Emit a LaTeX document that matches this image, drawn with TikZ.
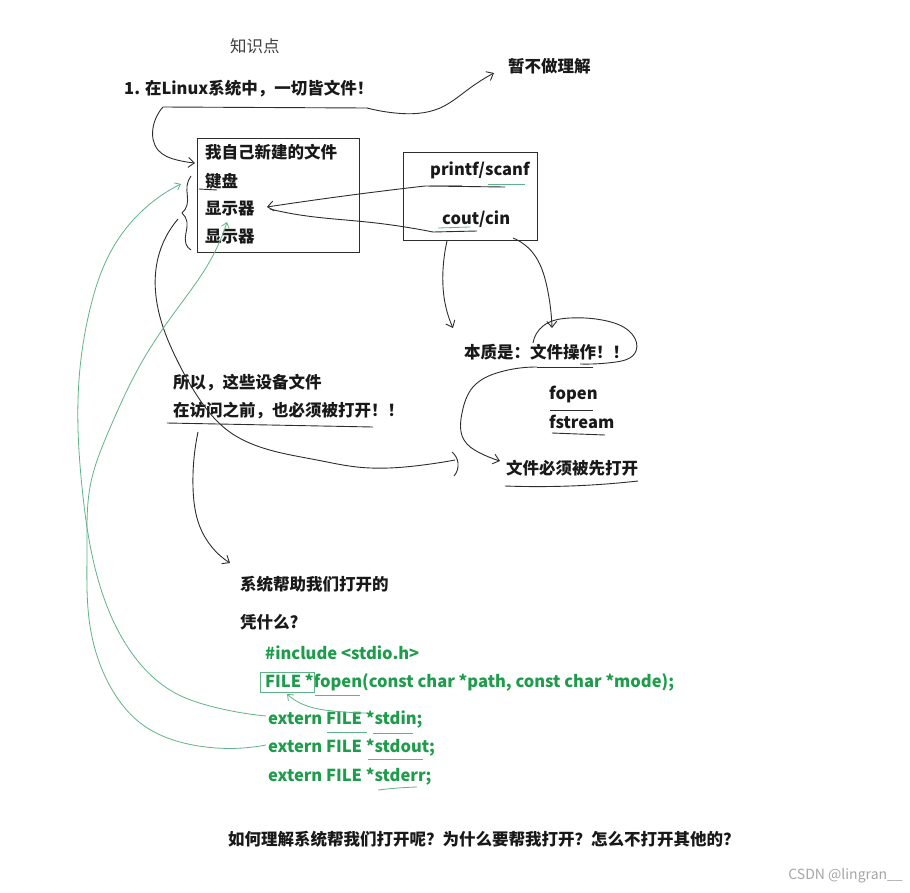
\documentclass[tikz,border=0pt]{standalone}
\usepackage{fontspec}
\setmainfont{Noto Sans CJK SC}
\usetikzlibrary{arrows.meta}
\usetikzlibrary{hobby}
\definecolor{penink}{RGB}{45,45,45}
\definecolor{codegreen}{RGB}{30,155,75}
\definecolor{greenink}{RGB}{95,180,135}
\tikzstyle{note}=[anchor=west, inner sep=0pt, font=\fontsize{16.5}{20}\selectfont\bfseries, text=black!90]
\tikzstyle{code}=[note, text=codegreen]
\tikzstyle{filebox}=[draw=penink, line width=1pt, anchor=north west, inner sep=0pt]
\tikzstyle{ink}=[draw=penink, line width=0.9pt, use Hobby shortcut]
\tikzstyle{greenpen}=[draw=greenink, line width=0.8pt, use Hobby shortcut]
\tikzstyle{penarrow}=[-{Straight Barb[length=6pt,width=10pt]}]
\tikzstyle{greenarrow}=[-{Straight Barb[length=5pt,width=8pt]}]

\begin{document}
\begin{tikzpicture}[x=1pt, y=-1pt]
      \fill[white] (0,0) rectangle (910,892);
      \useasboundingbox (0,0) rectangle (910,892);

      \node[note, font=\fontsize{16.5}{20}\selectfont, text=black!75] (topic) at (230,46) {知识点};
      \node[note] (claim) at (124,89) {1. 在Linux系统中，一切皆文件！};
      \node[note] (skip) at (508,66) {暂不做理解};

      \node[filebox, minimum width=162pt, minimum height=114pt] (files) at (197,138) {};
      \node[note] (own) at (205,152) {我自己新建的文件};
      \node[note] (kbd) at (205,181) {键盘};
      \node[note] (disp) at (205,209) {显示器};
      \node[note] (disp2) at (205,237) {显示器};

      \node[filebox, minimum width=134pt, minimum height=88pt] (libs) at (403,152) {};
      \node[note] (cio) at (430,170) {printf/scanf};
      \node[note] (cpp) at (442,219) {cout/cin};

      \node[note] (essence) at (464,352) {本质是：文件操作！！};
      \node[note] (fopen) at (549,394) {fopen};
      \node[note] (fstream) at (549,422) {fstream};
      \node[note] (mustopen) at (506,468) {文件必须被先打开};

      \node[note] (dev1) at (173,383) {所以，这些设备文件};
      \node[note] (dev2) at (173,411) {在访问之前，也必须被打开！！};

      \node[note] (sysopen) at (240,584) {系统帮助我们打开的};
      \node[note] (why) at (240,622) {凭什么?};
      \node[code] (incl) at (265,653) {\#include <stdio.h>};
      \node[code] (proto) at (265,682) {FILE *fopen(const char *path, const char *mode);};
      \node[code] (sin) at (268,720) {extern FILE *stdin;};
      \node[code] (sout) at (268,748) {extern FILE *stdout;};
      \node[code] (serr) at (268,777) {extern FILE *stderr;};

      \node[note] (question) at (228,839) {如何理解系统帮我们打开呢？为什么要帮我打开？怎么不打开其他的？};
      \node[anchor=east, inner sep=0pt, text=black!35, font=\fontsize{14}{16}\selectfont] (credit) at (903,876) {CSDN @lingran\_\_};

      % everything is a file
      \coordinate (claimleft) at (163,107);
      \coordinate (claimright) at (367,108);
      \draw[ink] (claimleft) -- (claimright);
      \draw[ink, penarrow] (claimright) .. (395,113) .. (440,108) .. (470,88) .. ([shift={(-14,7)}]skip.west);
      \draw[ink, penarrow] (claimleft) .. (153,128) .. (158,150) .. (177,160) .. ([shift={(-2,25)}]files.north west);

      % brace over the devices
      \draw[ink] ([shift={(-6,38)}]files.north west) .. (187,186) .. (187,205) .. (182,213);
      \draw[ink] (182,213) .. (187,222) .. (186,244) .. ([shift={(-6,112)}]files.north west);
      \draw[ink] ([shift={(-6,8)}]kbd.west) -- ([shift={(12,9)}]kbd.west);

      % printf/scanf and cout/cin
      \draw[ink] ([shift={(-5,16)}]cio.west) -- ([shift={(75,17)}]cio.west);
      \draw[greenpen] ([shift={(0,15)}]cio.west) -- ([shift={(32,15)}]cio.west);
      \draw[greenpen] ([shift={(58,14)}]cio.west) -- ([shift={(95,14)}]cio.west);
      \draw[ink] ([shift={(-9,13)}]cpp.west) -- ([shift={(35,12)}]cpp.west);
      \draw[greenpen] ([shift={(-4,9)}]cpp.west) -- ([shift={(28,8)}]cpp.west);
      \draw[ink, penarrow] ([shift={(-5,16)}]cio.west) .. (367,193) .. ([shift={(12,-2)}]disp.east);
      \draw[ink] ([shift={(15,0)}]disp.east) .. (300,215) .. (367,222) .. ([shift={(-9,13)}]cpp.west);

      % to file operations
      \draw[ink, penarrow] ([shift={(44,0)}]libs.south west) .. (443,270) .. (445,303) .. ([shift={(-11,-24)}]essence.west);
      \draw[ink, penarrow] ([shift={(110,-3)}]libs.south west) .. (533,253) .. (547,287) .. ([shift={(88,-24)}]essence.west);
      \draw[ink] (533,343) .. (543,326) .. (570,318) .. (607,321) .. (632,334) .. (636,351) .. (616,362) .. (580,364);
      \draw[ink] ([shift={(73,15)}]essence.west) -- ([shift={(129,15)}]essence.west);
      \draw[ink, penarrow] ([shift={(73,15)}]essence.west) .. (500,372) .. (473,387) .. (462,413) .. (464,440) .. (480,453) .. ([shift={(-6,-7)}]mustopen.west);
      \draw[ink] ([shift={(1,16)}]fopen.west) -- ([shift={(44,16)}]fopen.west);
      \draw[ink] ([shift={(3,11)}]fstream.west) -- ([shift={(56,13)}]fstream.west);
      \draw[ink] ([shift={(-1,18)}]mustopen.west) .. (570,486) .. ([shift={(132,13)}]mustopen.west);

      % devices must be opened too
      \draw[ink] ([shift={(-6,12)}]dev2.west) -- ([shift={(200,16)}]dev2.west);
      \draw[ink] ([shift={(-19,81)}]files.north west) .. (158,258) .. (160,317) .. (177,360) .. (200,400) .. (227,430) .. (260,447) .. (317,460) .. (357,467) .. (423,465) .. ([shift={(-51,-8)}]mustopen.west);
      \draw[ink] (452,452) .. (458,463) .. (454,476);
      \draw[ink, penarrow] ([shift={(25,21)}]dev2.west) .. (193,487) .. (200,527) .. ([shift={(-10,-21)}]sysopen.west);

      % the standard streams
      \draw[greenpen] ([shift={(-5,-10)}]proto.west) rectangle ([shift={(49,10)}]proto.west);
      \draw[greenpen] ([shift={(50,13)}]proto.west) -- ([shift={(95,13)}]proto.west);
      \draw[greenpen, greenarrow] ([shift={(99,-7)}]sin.west) .. (333,711) .. (300,703) .. ([shift={(22,12)}]proto.west);
      \draw[greenpen] ([shift={(59,12)}]sin.west) -- ([shift={(99,12)}]sin.west);
      \draw[greenpen] ([shift={(105,13)}]sin.west) -- ([shift={(145,13)}]sin.west);
      \draw[greenpen] ([shift={(100,11)}]sout.west) -- ([shift={(155,11)}]sout.west);
      \draw[greenpen] ([shift={(110,13)}]serr.west) .. ([shift={(130,11)}]serr.west) .. ([shift={(149,10)}]serr.west);
      \draw[greenpen, greenarrow] ([shift={(-2,-4)}]sin.west) .. (210,706) .. (177,694) .. (127,646) .. (100,586) .. (82,487) .. (78,428) .. (80,368) .. (90,309) .. (110,253) .. (143,210) .. ([shift={(-24,3)}]kbd.west);
      \draw[greenpen, greenarrow] ([shift={(-2,-3)}]sout.west) .. (193,745) .. (143,725) .. (110,686) .. (90,626) .. (87,547) .. (90,487) .. (110,428) .. (143,360) .. (177,309) .. (210,261) .. ([shift={(22,13)}]disp.west);
\end{tikzpicture}
\end{document}
